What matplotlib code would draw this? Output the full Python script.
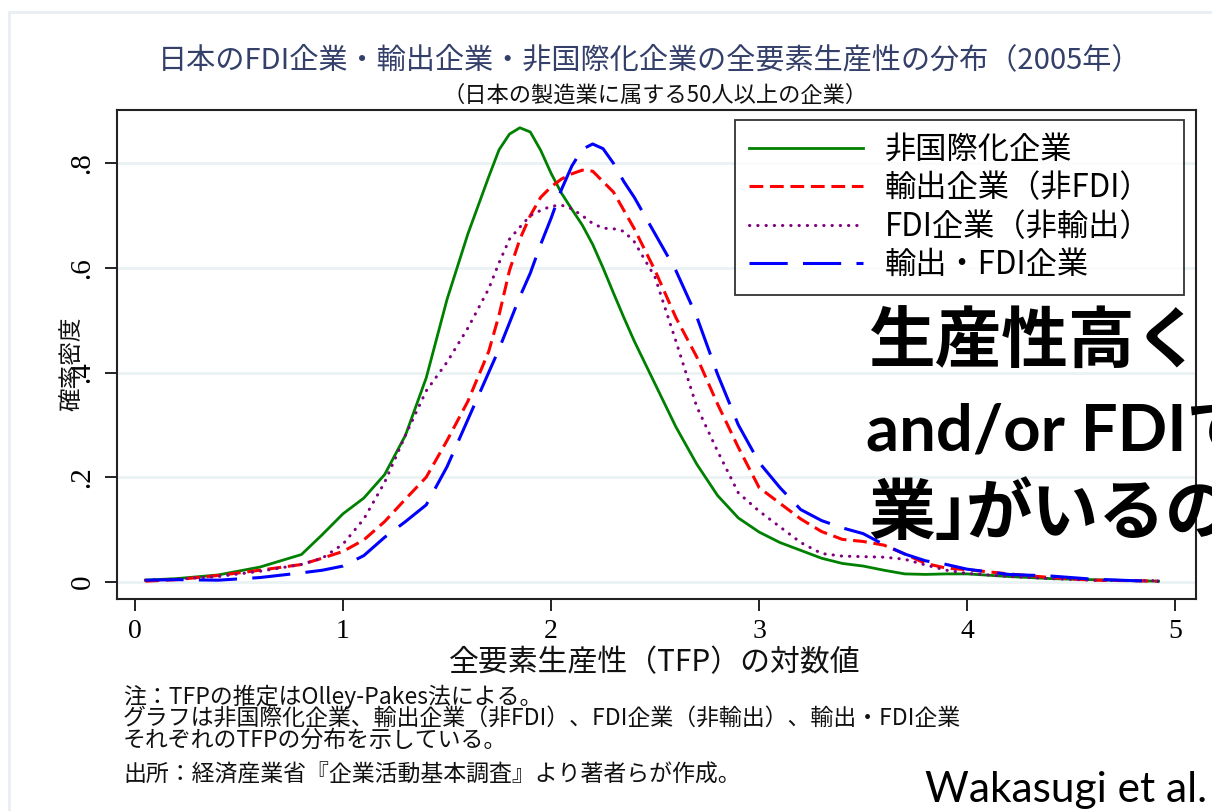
import numpy as np
import matplotlib
matplotlib.use("Agg")
import matplotlib.pyplot as plt
from matplotlib.patches import Rectangle

# ---- data ----
tfp = [0.05, 0.2, 0.4, 0.6, 0.8, 0.9, 1.0, 1.1, 1.2, 1.3, 1.4, 1.5, 1.6, 1.7,
       1.75, 1.8, 1.85, 1.9, 1.95, 2.0, 2.05, 2.1, 2.15, 2.2, 2.25, 2.3, 2.35,
       2.4, 2.5, 2.6, 2.7, 2.8, 2.9, 3.0, 3.1, 3.2, 3.3, 3.4, 3.5, 3.6, 3.7,
       3.8, 3.9, 4.0, 4.2, 4.4, 4.6, 4.8, 4.92]

non_intl = [.003, .006, .013, .028, .052, .09, .13, .16, .205, .28, .39, .54,
            .665, .774, .826, .856, .868, .86, .825, .781, .743, .712, .682,
            .645, .60, .552, .505, .46, .378, .296, .225, .165, .122, .095,
            .075, .06, .045, .035, .03, .022, .015, .014, .015, .015, .01,
            .006, .004, .002, .001]

export_only = [.001, .004, .012, .022, .033, .045, .058, .08, .115, .158, .20,
               .27, .345, .44, .51, .595, .655, .70, .735, .755, .77, .78,
               .787, .785, .765, .745, .71, .675, .595, .505, .43, .34, .257,
               .18, .15, .12, .096, .081, .077, .07, .053, .035, .026, .023,
               .015, .008, .003, .002, .001]

fdi_only = [.003, .005, .01, .02, .033, .045, .072, .12, .19, .28, .365, .42,
            .485, .56, .61, .655, .678, .70, .71, .718, .72, .713, .70, .685,
            .676, .675, .67, .65, .582, .46, .335, .25, .17, .135, .105, .075,
            .054, .049, .048, .047, .043, .032, .022, .016, .01, .006, .003,
            .002, .002]

export_fdi = [.003, .004, .003, .008, .017, .022, .03, .05, .085, .115, .147,
              .22, .31, .40, .445, .495, .545, .59, .645, .695, .75, .795,
              .827, .837, .828, .80, .765, .735, .665, .595, .507, .397, .30,
              .228, .18, .138, .117, .103, .092, .071, .053, .04, .033, .024,
              .014, .011, .005, .002, .001]

labels = ["非国際化企業", "輸出企業（非FDI）", "FDI企業（非輸出）", "輸出・FDI企業"]
x_ticks = [0, 1, 2, 3, 4, 5]
y_ticks = [0, 0.2, 0.4, 0.6, 0.8]
y_ticklabels = ["0", ".2", ".4", ".6", ".8"]

plt.rcParams['font.family'] = ['Noto Sans CJK JP', 'DejaVu Sans']

W, H = 1212, 811
fig = plt.figure(figsize=(W / 100, H / 100), dpi=100)
fig.patch.set_facecolor("white")

# slide border
fig.patches.append(Rectangle((9 / W, -0.1), 1.2, 1.1 - 11.5 / H, transform=fig.transFigure,
                             fill=False, edgecolor="#E8EEF2", lw=2, zorder=0))

ax = fig.add_axes([117 / W, 1 - 599 / H, (1196 - 117) / W, (599 - 110) / H])
ax.set_xlim(-0.0865, 5.10)
ax.set_ylim(-0.033, 0.902)

for y in y_ticks:
    ax.axhline(y, color="#EAF2F3", lw=2, zorder=1)

ax.plot(tfp, non_intl, color="#008000", lw=2.0, label=labels[0], zorder=3)
ax.plot(tfp, export_only, color="#FF0000", lw=2.2, dashes=(4.5, 2.2),
        label=labels[1], zorder=3)
ax.plot(tfp, fdi_only, color="#800080", lw=2.2, dashes=(0.1, 2.6),
        dash_capstyle="round", label=labels[2], zorder=3)
ax.plot(tfp, export_fdi, color="#0000FF", lw=2.2, dashes=(12.5, 5),
        label=labels[3], zorder=3)

ax.set_xticks(x_ticks)
ax.set_xticklabels([str(v) for v in x_ticks], family="Liberation Serif", fontsize=20)
ax.set_yticks(y_ticks)
ax.set_yticklabels(y_ticklabels, family="Liberation Serif", fontsize=21,
                   rotation=90, va="center")
ax.tick_params(axis="both", direction="out", length=8.5, width=1.4, color="#222222")
ax.tick_params(axis="x", pad=6)
ax.tick_params(axis="y", pad=7)
for s in ax.spines.values():
    s.set_linewidth(1.5)
    s.set_color("#222222")

leg = ax.legend(loc="upper left", bbox_to_anchor=(735 / W, 1 - 289 / H, 449 / W, 169 / H),
                bbox_transform=fig.transFigure, borderaxespad=0, fontsize=22.5,
                mode="expand", frameon=True, fancybox=False, edgecolor="black",
                handlelength=3.65, handletextpad=0.7, labelspacing=0.2,
                borderpad=0.45)
leg.get_frame().set_linewidth(1.3)
leg.set_zorder(5)

# titles and labels
fig.text(650 / W, 1 - 60 / H, "日本のFDI企業・輸出企業・非国際化企業の全要素生産性の分布（2005年）",
         ha="center", va="center", fontsize=21, color="#34406A")
fig.text(655 / W, 1 - 95 / H, "（日本の製造業に属する50人以上の企業）",
         ha="center", va="center", fontsize=16, color="#111111")
fig.text(72 / W, 1 - 364 / H, "確率密度", rotation=90, ha="center", va="center",
         fontsize=17, color="#111111")
fig.text(655 / W, 1 - 663 / H, "全要素生産性（TFP）の対数値", ha="center", va="center",
         fontsize=21.5, color="#111111")

notes = ["注：TFPの推定はOlley-Pakes法による。",
         "グラフは非国際化企業、輸出企業（非FDI）、FDI企業（非輸出）、輸出・FDI企業",
         "それぞれのTFPの分布を示している。"]
for i, t in enumerate(notes):
    fig.text(123 / W, 1 - (697 + i * 21.5) / H, t, ha="left", va="center",
             fontsize=16.5, color="#111111")
fig.text(123 / W, 1 - 775 / H, "出所：経済産業省『企業活動基本調査』より著者らが作成。",
         ha="left", va="center", fontsize=16.5, color="#111111")

# overlay from the slide (runs off the right edge as in the reference)
fig.text(868 / W, 1 - 343 / H, "生産性高く", ha="left", va="center", fontsize=48,
         weight="bold", color="black", zorder=10)
fig.text(866 / W, 1 - 432 / H, "and/or FDIで", ha="left", va="center", fontsize=47,
         weight="bold", color="black", family=["Lato", "Noto Sans CJK JP"], zorder=10)
fig.text(868 / W, 1 - 515 / H, "業」", ha="left", va="center", fontsize=48,
         weight="bold", color="black", zorder=10)
fig.text(966 / W, 1 - 515 / H, "がいるの", ha="left", va="center", fontsize=48,
         weight="bold", color="black", zorder=10)
fig.text(925 / W, 1 - 790 / H, "Wakasugi et al.", ha="left", va="center", fontsize=30.5,
         family="Lato", color="black")

fig.savefig("out.png", dpi=100)
